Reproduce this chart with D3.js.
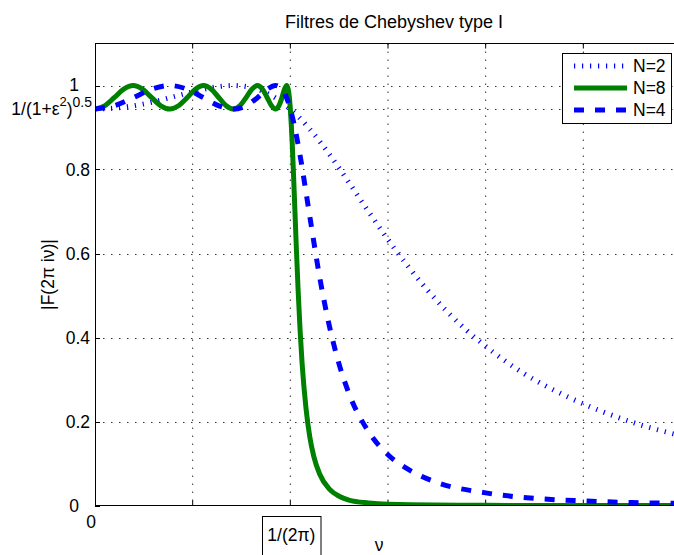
<!DOCTYPE html>
<html><head><meta charset="utf-8">
<script src="https://cdn.jsdelivr.net/npm/d3@7/dist/d3.min.js"></script>
<style>body{margin:0;background:#fff}svg{display:block;font-family:"Liberation Sans",Arial,sans-serif}</style>
</head><body><svg id="c" width="674" height="555"></svg>
<script>
// x values are normalized frequency 2*pi*nu (1 = cutoff 1/(2pi))
const omegaN2 = [0,0.1,0.2,0.3,0.4,0.5,0.6,0.7071,0.8,0.9,1,1.1,1.2,1.3,1.4,1.5,1.6,1.7,1.8,1.9,2,2.2,2.4,2.6,2.8,3];
const magN2   = [0.944,0.946,0.952,0.961,0.973,0.985,0.995,1,0.995,0.977,0.944,0.896,0.836,0.769,0.700,0.633,0.571,0.514,0.463,0.418,0.379,0.313,0.263,0.223,0.191,0.166];
const omegaN8 = [0,0.04907,0.09802,0.14673,0.19509,0.24298,0.29028,0.33689,0.38268,0.42756,0.4714,0.5141,0.55557,0.5957,0.63439,0.67156,0.70711,0.74095,0.77301,0.80321,0.83147,0.85773,0.88192,0.90399,0.92388,0.94154,0.95694,0.97003,0.98079,0.98918,0.99518,0.9988,1,1.005,1.01,1.02,1.03,1.04,1.05,1.06,1.08,1.1,1.12,1.15,1.2,1.25,1.3,1.4,1.5,2,2.5,3];
const magN8   = [0.9439,0.9517,0.9709,0.9912,1,0.9912,0.9709,0.9517,0.9439,0.9517,0.9709,0.9912,1,0.9912,0.9709,0.9517,0.9439,0.9517,0.9709,0.9912,1,0.9912,0.9709,0.9517,0.9439,0.9517,0.9709,0.9912,1,0.9912,0.9709,0.9517,0.9439,0.906,0.859,0.744,0.622,0.511,0.417,0.340,0.232,0.162,0.117,0.075,0.039,0.022,0.013,0.006,0.003,0.0003,0,0];
const omegaN4 = [0,0.09802,0.19509,0.29028,0.38268,0.4714,0.55557,0.63439,0.70711,0.77301,0.83147,0.88192,0.92388,0.95694,0.98079,0.99518,1,1.02,1.05,1.1,1.15,1.2,1.25,1.3,1.4,1.5,1.6,1.75,2,2.25,2.5,2.75,3];
const magN4   = [0.9439,0.9517,0.9709,0.9912,1,0.9912,0.9709,0.9517,0.9439,0.9517,0.9709,0.9912,1,0.9912,0.9709,0.9517,0.9439,0.906,0.833,0.687,0.544,0.427,0.336,0.267,0.176,0.121,0.087,0.055,0.030,0.017,0.011,0.007,0.005];
const xGrid = [0.5,1,1.5,2,2.5,3];
const yTicks = [0,0.2,0.4,0.6,0.8,1];
const ripple = 0.944;
const title = "Filtres de Chebyshev type I";
const legendNames = ["N=2","N=8","N=4"];

const svg = d3.select("#c");
const L=95, R=681, T=43.5, B=505.5;
const x = d3.scaleLinear().domain([0,3]).range([L,R]);
const y = d3.scaleLinear().domain([0,1.1]).range([B,T]);

const g = svg.append("g");
// grid
g.selectAll(".vg").data(xGrid).join("line")
  .attr("x1",d=>x(d)).attr("x2",d=>x(d)).attr("y1",T).attr("y2",B)
  .attr("stroke","#333").attr("stroke-width",1).attr("stroke-dasharray","1.5,6.5");
g.selectAll(".hg").data(yTicks.filter(d=>d>0).concat([ripple])).join("line")
  .attr("x1",L).attr("x2",R).attr("y1",d=>Math.round(y(d))+0.5).attr("y2",d=>Math.round(y(d))+0.5)
  .attr("stroke","#333").attr("stroke-width",1).attr("stroke-dasharray","1.5,6.5");

// ticks (inward)
g.selectAll(".lt").data(yTicks.concat([ripple])).join("line")
  .attr("x1",L).attr("x2",L+5).attr("y1",d=>Math.round(y(d))+0.5).attr("y2",d=>Math.round(y(d))+0.5).attr("stroke","#000");
g.selectAll(".bt").data(xGrid).join("line")
  .attr("x1",d=>x(d)).attr("x2",d=>x(d)).attr("y1",B).attr("y2",B-5).attr("stroke","#000");
g.selectAll(".tt").data(xGrid).join("line")
  .attr("x1",d=>x(d)).attr("x2",d=>x(d)).attr("y1",T).attr("y2",T+5).attr("stroke","#000");

// clip
svg.append("clipPath").attr("id","pc").append("rect").attr("x",L).attr("y",T-10).attr("width",R-L).attr("height",B-T+10);
const line = d3.line().x(d=>x(d[0])).y(d=>y(d[1])).curve(d3.curveMonotoneX);
const series = [
  {xs:omegaN2, ys:magN2, color:"#0000ff", w:5, dash:"1.2,6.8"},
  {xs:omegaN8, ys:magN8, color:"#008000", w:5, dash:null},
  {xs:omegaN4, ys:magN4, color:"#0000ff", w:5, dash:"10,11"}
];
const cg = svg.append("g").attr("clip-path","url(#pc)");
series.forEach(s=>{
  cg.append("path").datum(d3.zip(s.xs,s.ys)).attr("d",line)
    .attr("fill","none").attr("stroke",s.color).attr("stroke-width",s.w)
    .attr("stroke-dasharray",s.dash).attr("stroke-linejoin","round");
});

// axes border
svg.append("line").attr("x1",L+0.5).attr("x2",L+0.5).attr("y1",T).attr("y2",B+0.5).attr("stroke","#000");
svg.append("line").attr("x1",L).attr("x2",R).attr("y1",B).attr("y2",B).attr("stroke","#000");
svg.append("line").attr("x1",L).attr("x2",R).attr("y1",T).attr("y2",T).attr("stroke","#000");

// y tick labels
const fs = 17.5;
svg.selectAll(".yl").data(yTicks).join("text")
  .attr("x",d=>(d===0||d===1)?79:90).attr("y",d=>y(d)+(d===1?5:6))
  .attr("text-anchor","end").attr("font-size",fs).text(d=>d===0?"0":d===1?"1":d3.format(".1f")(d));
const et = svg.append("text").attr("x",92).attr("y",y(ripple)+6).attr("text-anchor","end").attr("font-size",fs);
et.append("tspan").text("1/(1+ε");
et.append("tspan").attr("dy",-9).attr("font-size",13).text("2");
et.append("tspan").attr("dy",9).text(")");
et.append("tspan").attr("dy",-8.5).attr("font-size",14).text("0.5");

// x tick labels
svg.append("text").attr("x",91).attr("y",528).attr("text-anchor","middle").attr("font-size",fs).text("0");
svg.append("rect").attr("x",262.5).attr("y",516.5).attr("width",58.5).attr("height",45).attr("fill","#fff").attr("stroke","#000");
svg.append("text").attr("x",x(1)+1).attr("y",541).attr("text-anchor","middle").attr("font-size",fs).text("1/(2π)");
svg.append("text").attr("x",379).attr("y",551).attr("text-anchor","middle").attr("font-size",fs).text("ν");
// y label
svg.append("text").attr("transform",`translate(54,${(T+B)/2}) rotate(-90)`).attr("text-anchor","middle").attr("font-size",fs).text("|F(2π iν)|");
// title
svg.append("text").attr("x",394).attr("y",28).attr("text-anchor","middle").attr("font-size",18).text(title);

// legend
const lg = svg.append("g");
lg.append("rect").attr("x",562.5).attr("y",53.5).attr("width",109).attr("height",70).attr("fill","#fff").attr("stroke","#000");
series.forEach((s,i)=>{
  const yy = 66+i*22;
  lg.append("line").attr("x1",574).attr("x2",627).attr("y1",yy).attr("y2",yy)
    .attr("stroke",s.color).attr("stroke-width",s.w).attr("stroke-dasharray",s.dash);
  lg.append("text").attr("x",633).attr("y",yy+6).attr("font-size",17.5).text(legendNames[i]);
});
</script></body></html>
